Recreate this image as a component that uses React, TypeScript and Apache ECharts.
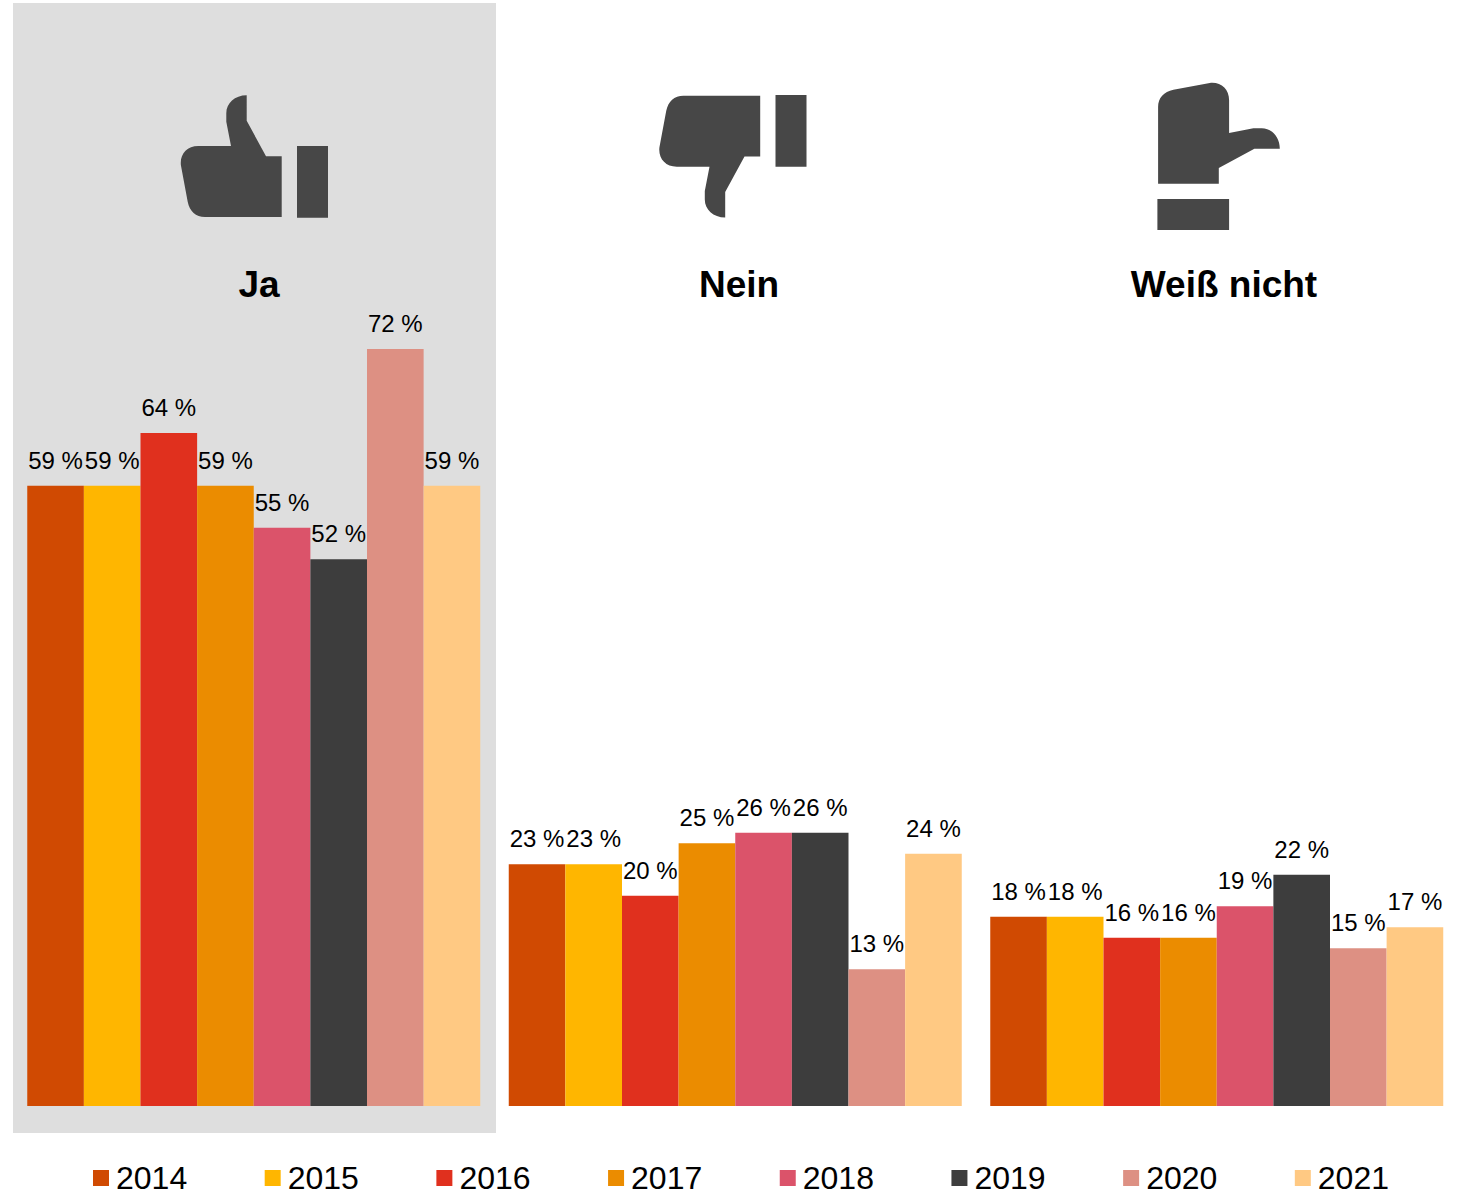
import React, { useEffect, useRef } from "react";
import * as echarts from "echarts";

const categories = ["Ja", "Nein", "Weiß nicht"];
const years = ["2014", "2015", "2016", "2017", "2018", "2019", "2020", "2021"];
const values2014 = [59, 23, 18];
const values2015 = [59, 23, 18];
const values2016 = [64, 20, 16];
const values2017 = [59, 25, 16];
const values2018 = [55, 26, 19];
const values2019 = [52, 26, 22];
const values2020 = [72, 13, 15];
const values2021 = [59, 24, 17];
const yearValues = [values2014, values2015, values2016, values2017, values2018, values2019, values2020, values2021];
const yearColors = ["#D04A02", "#FFB600", "#E0301E", "#EB8C00", "#DB536A", "#3D3D3D", "#DD9083", "#FFC983"];

const FONT = '"Liberation Sans", Arial, sans-serif';
const ICON_COLOR = "#474747";

// Thumb-up hand and its cuff; the other two icons are this shape flipped or rotated.
const handPath =
  "M66 0 C54 0 45.6 8 45.6 18 L45.6 26.4 L50.3 50.7 L17.6 50.7 C6 50.7 -1 59 0.2 70 L7 106.4 C9 116 15 121.7 24.3 121.7 " +
  "L101 121.7 L101 61 L85.3 61 L66 25.4 Z M116.3 50.7 L147.3 50.7 L147.3 122.4 L116.3 122.4 Z";
echarts.graphic.registerShape("handIcon", echarts.graphic.extendPath(handPath, {}));

const titleText = (text: string, x: number) => ({
  type: "text",
  x,
  y: 284,
  style: {
    text,
    fill: "#000000",
    font: `bold 37px ${FONT}`,
    textAlign: "center",
    textVerticalAlign: "middle",
  },
});

export default function App() {
  const ref = useRef<HTMLDivElement>(null);

  useEffect(() => {
    const chart = echarts.init(ref.current!, null, { renderer: "svg" });
    chart.setOption({
      animation: false,
      backgroundColor: "#FFFFFF",
      textStyle: { fontFamily: FONT },
      grid: { left: 13, right: 2.5, top: 54.6, height: 1051.4 },
      xAxis: { type: "category", data: categories, show: false },
      yAxis: { type: "value", min: 0, max: 100, show: false },
      legend: {
        data: years,
        left: 93,
        top: 1162,
        padding: 0,
        icon: "rect",
        itemWidth: 16,
        itemHeight: 16,
        itemGap: 77.5,
        textStyle: { fontSize: 32, lineHeight: 30, color: "#000000", fontFamily: FONT, padding: [0, 0, 0, 2] },
      },
      graphic: [
        { type: "rect", z: -1, shape: { x: 13, y: 3, width: 483, height: 1130 }, style: { fill: "#DEDEDE" } },
        { type: "handIcon", x: 180.7, y: 95.3, style: { fill: ICON_COLOR } },
        { type: "handIcon", x: 659.2, y: 217.4, scaleY: -1, style: { fill: ICON_COLOR } },
        { type: "handIcon", x: 1279.8, y: 82.7, rotation: -Math.PI / 2, style: { fill: ICON_COLOR } },
        titleText("Ja", 259),
        titleText("Nein", 739),
        titleText("Weiß nicht", 1224),
      ],
      series: years.map((year, i) => ({
        name: year,
        type: "bar",
        data: yearValues[i],
        barGap: 0,
        barCategoryGap: "5.92%",
        itemStyle: { color: yearColors[i] },
        label: {
          show: true,
          position: "top",
          distance: 13.5,
          formatter: "{c} %",
          fontSize: 24,
          color: "#000000",
          fontFamily: FONT,
        },
      })),
    });
    return () => chart.dispose();
  }, []);

  return <div ref={ref} style={{ position: "absolute", left: 0, top: 0, width: 1460, height: 1194 }} />;
}
